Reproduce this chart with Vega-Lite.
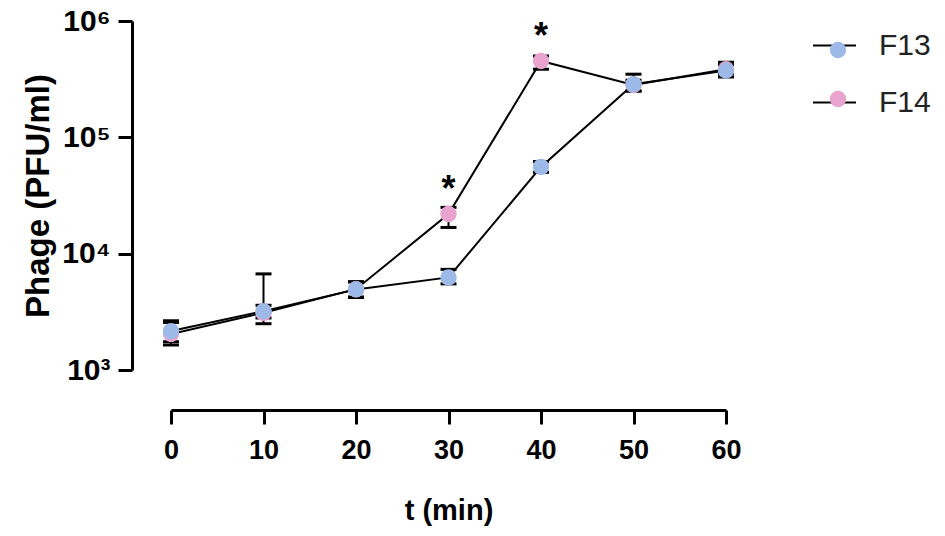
{
  "$schema": "https://vega.github.io/schema/vega-lite/v6.json",
  "width": 555,
  "height": 349,
  "autosize": {"type": "none"},
  "padding": {"left": 171, "top": 21, "right": 219, "bottom": 166},
  "background": "white",
  "data": {
    "values": [
      {"t": 0, "series": "F14", "v": 2040, "lo": 1640, "hi": 2560, "sig": ""},
      {"t": 10, "series": "F14", "v": 3100, "lo": 2500, "hi": 6700, "sig": ""},
      {"t": 20, "series": "F14", "v": 4950, "lo": 4250, "hi": 5700, "sig": ""},
      {"t": 30, "series": "F14", "v": 21900, "lo": 16800, "hi": 25000, "sig": "*"},
      {"t": 40, "series": "F14", "v": 453000, "lo": 385000, "hi": 500000, "sig": "*"},
      {"t": 50, "series": "F14", "v": 282000, "lo": 250000, "hi": 310000, "sig": ""},
      {"t": 60, "series": "F14", "v": 385000, "lo": 350000, "hi": 420000, "sig": ""},
      {"t": 0, "series": "F13", "v": 2160, "lo": 1750, "hi": 2650, "sig": ""},
      {"t": 10, "series": "F13", "v": 3200, "lo": 2800, "hi": 3600, "sig": ""},
      {"t": 20, "series": "F13", "v": 4930, "lo": 4200, "hi": 5750, "sig": ""},
      {"t": 30, "series": "F13", "v": 6250, "lo": 5500, "hi": 7330, "sig": ""},
      {"t": 40, "series": "F13", "v": 55700, "lo": 50000, "hi": 62000, "sig": ""},
      {"t": 50, "series": "F13", "v": 286000, "lo": 250000, "hi": 349000, "sig": ""},
      {"t": 60, "series": "F13", "v": 375000, "lo": 330000, "hi": 442000, "sig": ""}
    ]
  },
  "encoding": {
    "x": {
      "field": "t",
      "type": "quantitative",
      "title": "t (min)",
      "scale": {"domain": [0, 60], "nice": false},
      "axis": {
        "values": [0, 10, 20, 30, 40, 50, 60],
        "offset": 40,
        "grid": false,
        "domainColor": "black",
        "domainWidth": 3,
        "tickColor": "black",
        "tickWidth": 3,
        "tickSize": 14,
        "labelFont": "Liberation Sans",
        "labelFontWeight": "bold",
        "labelFontSize": 27,
        "labelColor": "black",
        "labelPadding": 13,
        "labelFlush": false,
        "titleFont": "Liberation Sans",
        "titleFontWeight": "bold",
        "titleFontSize": 29,
        "titleColor": "black",
        "titlePadding": 33
      }
    }
  },
  "layer": [
    {
      "mark": {"type": "line", "strokeWidth": 2},
      "encoding": {
        "y": {
          "field": "v",
          "type": "quantitative",
          "title": "Phage (PFU/ml)",
          "scale": {"type": "log", "domain": [1000, 1000000], "nice": false},
          "axis": {
            "values": [1000, 10000, 100000, 1000000],
            "labelExpr": "datum.value == 1000 ? '10³' : datum.value == 10000 ? '10⁴' : datum.value == 100000 ? '10⁵' : '10⁶'",
            "offset": 39,
            "grid": false,
            "domainColor": "black",
            "domainWidth": 3,
            "tickColor": "black",
            "tickWidth": 3,
            "tickSize": 14,
            "labelFont": "Liberation Sans",
            "labelFontWeight": "bold",
            "labelFontSize": 30,
            "labelColor": "black",
            "labelPadding": 8,
            "labelFlush": false,
            "titleFont": "Liberation Sans",
            "titleFontWeight": "bold",
            "titleFontSize": 33,
            "titleColor": "black",
            "titlePadding": 6
          }
        },
        "stroke": {
          "field": "series",
          "type": "nominal",
          "scale": {"domain": ["F13", "F14"], "range": ["black", "black"]},
          "legend": {
            "orient": "none",
            "legendX": 641,
            "legendY": 2,
            "title": null,
            "symbolType": "M-1,0L1,0",
            "symbolSize": 1849,
            "symbolStrokeWidth": 2,
            "labelFont": "Liberation Sans",
            "labelFontSize": 30,
            "labelColor": "#222222",
            "labelOffset": 22,
            "rowPadding": 19
          }
        }
      }
    },
    {
      "mark": {"type": "rule", "color": "black", "strokeWidth": 2, "opacity": 1},
      "encoding": {
        "y": {"field": "lo", "type": "quantitative"},
        "y2": {"field": "hi"},
        "detail": {"field": "series"}
      }
    },
    {
      "mark": {"type": "tick", "orient": "horizontal", "color": "black", "size": 16, "thickness": 3, "opacity": 1},
      "encoding": {
        "y": {"field": "hi", "type": "quantitative"}
      }
    },
    {
      "mark": {"type": "tick", "orient": "horizontal", "color": "black", "size": 16, "thickness": 3, "opacity": 1},
      "encoding": {
        "y": {"field": "lo", "type": "quantitative"}
      }
    },
    {
      "mark": {"type": "point", "filled": true, "opacity": 1, "size": 270, "strokeWidth": 0},
      "encoding": {
        "y": {"field": "v", "type": "quantitative"},
        "fill": {
          "field": "series",
          "type": "nominal",
          "scale": {"range": ["#9DB9E8", "#E9A3CF"]},
          "legend": {
            "orient": "none",
            "legendX": 652,
            "legendY": 14,
            "title": null,
            "symbolType": "circle",
            "symbolSize": 270,
            "symbolStrokeWidth": 0,
            "symbolOpacity": 1,
            "labelExpr": "''",
            "labelFontSize": 30,
            "rowPadding": 19
          }
        }
      }
    },
    {
      "transform": [{"filter": "datum.sig == '*'"}],
      "mark": {"type": "text", "font": "Liberation Sans", "fontWeight": "bold", "fontSize": 36, "baseline": "middle", "dy": -24, "color": "black"},
      "encoding": {
        "y": {"field": "v", "type": "quantitative"},
        "text": {"field": "sig"}
      }
    }
  ],
  "config": {"view": {"stroke": null}}
}
